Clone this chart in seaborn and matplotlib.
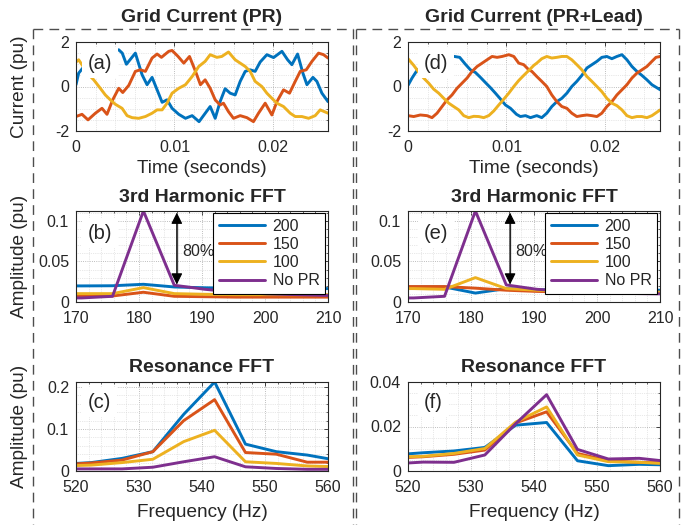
import numpy as np
import pandas as pd
import seaborn as sns
import matplotlib.pyplot as plt
from matplotlib.lines import Line2D
from matplotlib.ticker import MultipleLocator

# ---- grid current, PR only (time in ms, current in pu) ----
pr_a_t = [0, 0.27, 1.0, 1.8, 2.6, 3.3, 3.9, 4.34, 4.7, 5.12, 6.03, 6.71, 7.22, 7.73, 8.24,
          8.75, 9.25, 9.76, 10.44, 11.12, 11.8, 12.5, 13.63, 14.14, 14.64, 15.15, 15.66,
          16.17, 16.68, 17.19, 17.69, 18.2, 18.71, 19.39, 20.07, 20.92, 21.5, 21.93, 22.51,
          23.05, 23.46, 24.07, 24.47, 24.98, 25.6]
pr_a_i = [0.08, 0.6, 1.0, 1.2, 1.45, 1.35, 1.6, 1.65, 1.5, 1.0, 1.5, 0.53, 0.08, 0.41, -0.15,
          -0.71, -0.6, -0.98, -1.25, -1.43, -1.31, -1.58, -0.9, -1.43, -0.68, -0.1, -0.3,
          -0.38, 0.23, 0.68, 0.75, 0.68, 1.1, 1.43, 1.3, 1.58, 1.2, 0.98, 1.46,
          0.6, 0.08, 0.41, 0.23, -0.3, -0.68]
pr_b_t = [0, 0.61, 1.22, 1.97, 2.64, 3.15, 3.73, 4.34, 4.75, 5.36, 6.03, 6.54, 7.05, 7.73,
          8.24, 8.68, 9.42, 9.76, 10.37, 10.95, 11.53, 12.14, 12.64, 13.12, 13.63, 14.14,
          14.64, 14.98, 15.49, 16.0, 16.68, 17.36, 18.03, 18.54, 19.22, 19.9, 20.41, 21.08,
          21.69, 22.27, 22.78, 23.39, 23.97, 24.64, 25.15, 25.6]
pr_b_i = [-1.35, -1.25, -1.5, -1.2, -0.98, -1.25, -0.6, -0.08, -0.27, 0.05, 0.68, 0.75, 0.68,
          1.28, 1.46, 1.31, 1.58, 1.62, 1.35, 1.05, 1.35, 0.68, 0.08, 0.3, -0.08, -0.6,
          -0.83, -0.75, -1.13, -1.43, -1.31, -1.4, -1.58, -1.2, -0.75, -1.28, -0.68, -0.15,
          -0.3, 0.23, 0.68, 0.75, 1.13, 1.5, 1.43, 1.28]
pr_c_t = [0, 0.27, 0.8, 1.29, 1.8, 2.47, 2.98, 3.49, 4.0, 4.68, 5.19, 5.7, 6.37, 7.05, 7.73,
          8.24, 8.75, 9.25, 9.76, 10.44, 11.12, 11.8, 12.47, 13.12, 13.63, 14.31, 14.81,
          15.49, 16.17, 16.68, 17.19, 17.69, 18.2, 18.88, 19.39, 19.9, 20.41, 21.08, 21.76,
          22.27, 22.95, 23.63, 24.3, 24.81, 25.6]
pr_c_i = [1.1, 1.2, 0.85, 0.53, 0.3, -0.08, -0.38, -0.6, -0.8, -0.98, -1.31, -1.4, -1.43,
          -1.35, -1.2, -1.05, -1.05, -0.75, -0.3, -0.08, 0.08, 0.45, 0.9, 1.13, 1.43, 1.31,
          1.35, 1.55, 1.2, 1.05, 0.9, 0.68, 0.23, 0, -0.3, -0.53, -0.75, -0.9, -1.2,
          -1.35, -1.35, -1.43, -1.31, -1.05, -1.2]

# ---- grid current, PR + lead ----
lead_a_t = [0, 0.41, 0.85, 1.5, 2.5, 3.5, 4.2, 4.71, 5.25, 5.83, 6.34, 6.85, 7.36, 7.86, 8.37,
            8.88, 9.39, 9.9, 10.41, 11.02, 11.42, 11.93, 12.44, 13.08, 13.59, 14.1, 14.61,
            15.12, 15.63, 16.14, 16.64, 17.15, 17.66, 18.17, 18.68, 19.19, 19.69, 20.2,
            20.71, 21.22, 21.73, 22.24, 22.75, 23.25, 23.76, 24.27, 24.78, 25.63]
lead_a_i = [0.05, 0.38, 0.68, 0.95, 1.2, 1.35, 1.38, 1.35, 1.31, 1.0, 0.75, 0.63, 0.41, 0.18,
            -0.05, -0.3, -0.56, -0.83, -0.98, -1.25, -1.35, -1.31, -1.4, -1.31, -1.4, -1.2,
            -0.9, -0.68, -0.53, -0.3, 0, 0.23, 0.5, 0.83, 0.98, 1.13, 1.31, 1.35, 1.25, 1.35,
            1.43, 1.2, 0.9, 0.68, 0.5, 0.3, 0.08, -0.15]
lead_b_t = [0, 0.58, 1.25, 1.93, 2.44, 2.95, 3.46, 3.97, 4.47, 4.98, 5.49, 6.0, 6.51, 7.02,
            7.53, 8.03, 8.54, 9.05, 9.56, 10.24, 10.75, 11.25, 11.76, 12.27, 12.58, 13.08,
            13.59, 14.1, 14.61, 15.12, 15.63, 16.14, 16.64, 17.15, 17.66, 18.17, 18.68,
            19.19, 19.69, 20.2, 20.71, 21.22, 21.73, 22.24, 22.75, 23.25, 23.76, 24.27,
            24.78, 25.19, 25.63]
lead_b_i = [-1.31, -1.35, -1.28, -1.31, -1.4, -1.2, -0.9, -0.6, -0.38, -0.08, 0.15, 0.38, 0.68,
            0.9, 1.05, 1.2, 1.35, 1.31, 1.35, 1.43, 1.35, 1.05, 0.98, 0.75, 0.68, 0.45, 0.23,
            0, -0.38, -0.68, -0.9, -0.98, -1.2, -1.35, -1.31, -1.28, -1.31, -1.35, -1.2, -0.9,
            -0.68, -0.38, -0.15, 0.08, 0.38, 0.6, 0.75, 0.9, 1.13, 1.31, 1.35]
lead_c_t = [0, 0.58, 1.08, 1.59, 2.1, 2.61, 3.12, 3.63, 4.14, 4.64, 5.15, 5.66, 6.17, 6.68,
            7.19, 7.69, 8.2, 8.71, 9.22, 9.73, 10.24, 10.75, 11.25, 11.76, 12.27, 12.78,
            13.08, 13.59, 14.1, 14.61, 15.12, 15.63, 16.14, 16.64, 17.15, 17.66, 18.17,
            18.68, 19.19, 19.69, 20.2, 20.71, 21.22, 21.73, 22.24, 22.75, 23.25, 23.76,
            24.27, 24.78, 25.63]
lead_c_i = [1.25, 0.95, 0.65, 0.38, 0.15, -0.12, -0.3, -0.53, -0.75, -0.9, -1.05, -1.31, -1.4,
            -1.34, -1.35, -1.4, -1.31, -1.1, -0.83, -0.57, -0.3, 0, 0.27, 0.5, 0.72, 0.95,
            1.05, 1.25, 1.35, 1.28, 1.31, 1.35, 1.35, 1.2, 0.98, 0.75, 0.45, 0.23, 0, -0.23,
            -0.53, -0.75, -0.86, -1.05, -1.31, -1.4, -1.35, -1.35, -1.4, -1.31, -1.05]

# ---- FFT bins (Hz) ----
harm_freq = [166.0, 170.9, 175.8, 180.7, 185.6, 190.5, 195.4, 200.3, 205.2, 210.1]
res_freq = [517.5, 522.4, 527.3, 532.2, 537.1, 542.0, 546.9, 551.8, 556.7, 561.6]
cases = ["200", "150", "100", "No PR"]

harm_pr = {
    "200": [0.020, 0.0198, 0.020, 0.0218, 0.0185, 0.0175, 0.017, 0.0168, 0.0166, 0.0165],
    "150": [0.007, 0.007, 0.0074, 0.012, 0.007, 0.0065, 0.006, 0.006, 0.006, 0.006],
    "100": [0.0103, 0.0103, 0.0103, 0.0177, 0.0103, 0.0095, 0.009, 0.009, 0.009, 0.009],
    "No PR": [0.005, 0.005, 0.007, 0.112, 0.0206, 0.0156, 0.012, 0.010, 0.009, 0.008],
}
harm_lead = {
    "200": [0.0185, 0.0185, 0.0185, 0.011, 0.0165, 0.015, 0.015, 0.0148, 0.0146, 0.0145],
    "150": [0.019, 0.019, 0.019, 0.017, 0.0145, 0.013, 0.0125, 0.0122, 0.012, 0.012],
    "100": [0.0165, 0.0165, 0.0156, 0.030, 0.0165, 0.0145, 0.013, 0.0125, 0.012, 0.012],
    "No PR": [0.005, 0.005, 0.007, 0.112, 0.021, 0.0156, 0.013, 0.011, 0.0105, 0.010],
}
res_pr = {
    "200": [0.016, 0.020, 0.030, 0.046, 0.135, 0.212, 0.064, 0.046, 0.038, 0.025],
    "150": [0.015, 0.019, 0.026, 0.046, 0.120, 0.170, 0.044, 0.040, 0.021, 0.021],
    "100": [0.012, 0.014, 0.020, 0.028, 0.070, 0.097, 0.022, 0.018, 0.012, 0.010],
    "No PR": [0.005, 0.005, 0.005, 0.009, 0.022, 0.034, 0.010, 0.006, 0.004, 0.004],
}
res_lead = {
    "200": [0.0072, 0.0082, 0.0090, 0.0106, 0.0206, 0.0218, 0.0046, 0.0024, 0.0030, 0.0027],
    "150": [0.0058, 0.0064, 0.0075, 0.0094, 0.0216, 0.0266, 0.0079, 0.0046, 0.0039, 0.0036],
    "100": [0.0062, 0.0066, 0.0079, 0.0101, 0.0220, 0.0288, 0.0072, 0.0042, 0.0039, 0.0032],
    "No PR": [0.0032, 0.0040, 0.0039, 0.0072, 0.0213, 0.0343, 0.0097, 0.0054, 0.0057, 0.0042],
}

colors = ["#0072BD", "#D95319", "#EDB120", "#7E2F8E"]

sns.set_theme(style="white")
plt.rcParams["font.family"] = ["Liberation Sans", "DejaVu Sans"]
plt.rcParams["axes.unicode_minus"] = False


def wave_df(series):
    parts = []
    for name, (t, i) in series.items():
        parts.append(pd.DataFrame({"t": np.array(t) / 1000, "i": i, "phase": name}))
    return pd.concat(parts, ignore_index=True)


def fft_df(freq, table):
    parts = [pd.DataFrame({"f": freq, "amp": table[c], "case": c}) for c in cases]
    return pd.concat(parts, ignore_index=True)


def style(ax, xminor, yminor):
    ax.set_facecolor("white")
    ax.xaxis.set_minor_locator(MultipleLocator(xminor))
    ax.yaxis.set_minor_locator(MultipleLocator(yminor))
    ax.grid(which="major", linestyle=":", color="#a8a8a8", lw=0.6)
    ax.grid(which="minor", linestyle=":", color="#d2d2d2", lw=0.5)
    ax.set_axisbelow(True)
    ax.tick_params(which="both", direction="in", top=True, right=True,
                   labelsize=11.5, colors="#262626")
    ax.tick_params(which="major", length=3, width=0.6)
    ax.tick_params(which="minor", length=1.5, width=0.5)
    ax.tick_params(axis="x", pad=6.5)
    ax.tick_params(axis="y", pad=5)
    for s in ax.spines.values():
        s.set_color("#262626")
        s.set_linewidth(0.8)
        s.set_visible(True)
    ax.set_xlabel("")
    ax.set_ylabel("")


def panel_tag(ax, x, y, tag):
    ax.text(x, y, tag, transform=ax.transAxes, fontsize=14.5, va="center", ha="left",
            zorder=6, bbox=dict(facecolor="white", edgecolor="none", pad=4))


fig = plt.figure(figsize=(6.99, 5.25), dpi=100)
W, H = 699, 525


def add_ax(x0, y0, x1, y1):
    return fig.add_axes([x0 / W, 1 - y1 / H, (x1 - x0) / W, (y1 - y0) / H])


ax_a = add_ax(76, 42, 328, 131)
ax_d = add_ax(408, 42, 660, 131)
ax_b = add_ax(76, 211, 328, 302)
ax_e = add_ax(408, 211, 660, 302)
ax_c = add_ax(76, 382, 328, 471)
ax_f = add_ax(408, 382, 660, 471)

# time-domain currents
for ax, series, tag, tx in [
    (ax_a, {"A": (pr_a_t, pr_a_i), "B": (pr_b_t, pr_b_i), "C": (pr_c_t, pr_c_i)}, "(a)", 0.048),
    (ax_d, {"A": (lead_a_t, lead_a_i), "B": (lead_b_t, lead_b_i), "C": (lead_c_t, lead_c_i)}, "(d)", 0.063),
]:
    df = wave_df(series)
    sns.lineplot(data=df, x="t", y="i", hue="phase", palette=colors[:3], estimator=None,
                 sort=False, linewidth=2.1, legend=False, ax=ax)
    ax.set_xlim(0, 0.0256)
    ax.set_ylim(-2, 2)
    ax.set_xticks([0, 0.01, 0.02])
    ax.set_xticklabels(["0", "0.01", "0.02"])
    ax.set_yticks([-2, 0, 2])
    ax.set_yticklabels(["-2", "0", "2"])
    style(ax, 0.002, 0.5)
    ax.set_xlabel("Time (seconds)", fontsize=13.7)
    ax.xaxis.set_label_coords(0.5, -0.33)
    ax.xaxis.label.set_va("top")
    ax.set_title("Grid Current (PR)" if ax is ax_a else "Grid Current (PR+Lead)",
                 fontsize=14, fontweight="bold", pad=14.5)
    panel_tag(ax, tx, 0.764, tag)

# 3rd harmonic FFT
for ax, table, tag, tx, ax_x in [(ax_b, harm_pr, "(b)", 0.048, 186.0),
                                 (ax_e, harm_lead, "(e)", 0.063, 186.2)]:
    df = fft_df(harm_freq, table)
    sns.lineplot(data=df, x="f", y="amp", hue="case", hue_order=cases, palette=colors,
                 estimator=None, sort=False, linewidth=2.1, legend=True, ax=ax)
    ax.set_xlim(170, 210)
    ax.set_ylim(0, 0.112)
    ax.set_xticks([170, 180, 190, 200, 210])
    ax.set_yticks([0, 0.05, 0.1])
    ax.set_yticklabels(["0", "0.05", "0.1"])
    style(ax, 2, 0.01)
    ax.set_title("3rd Harmonic FFT", fontsize=14, fontweight="bold", pad=6.3)
    sns.move_legend(ax, "upper right", bbox_to_anchor=(0.988, 0.978), title=None,
                    frameon=True, fancybox=False, framealpha=1, edgecolor="black",
                    fontsize=11.5, handlelength=2.9, borderpad=0.35, labelspacing=0.2,
                    handletextpad=0.45, borderaxespad=0)
    leg = ax.get_legend()
    leg.get_frame().set_linewidth(0.8)
    for ln in leg.get_lines():
        ln.set_linewidth(2.1)
    ax.plot([ax_x, ax_x], [0.03, 0.1], color="#666666", lw=1)
    ax.annotate("", xy=(ax_x, 0.0215), xytext=(ax_x, 0.110),
                arrowprops=dict(arrowstyle="<|-|>", color="black", lw=0.8,
                                mutation_scale=17, shrinkA=0, shrinkB=0))
    ax.text(ax_x + 0.8, 0.062, "80%", fontsize=11.5, va="center", ha="left", color="#262626")
    panel_tag(ax, tx, 0.758, tag)

# resonance FFT
for ax, table, tag, tx in [(ax_c, res_pr, "(c)", 0.048), (ax_f, res_lead, "(f)", 0.063)]:
    df = fft_df(res_freq, table)
    sns.lineplot(data=df, x="f", y="amp", hue="case", hue_order=cases, palette=colors,
                 estimator=None, sort=False, linewidth=2.1, legend=False, ax=ax)
    ax.set_xlim(520, 560)
    ax.set_xticks([520, 530, 540, 550, 560])
    if ax is ax_c:
        ax.set_ylim(0, 0.212)
        ax.set_yticks([0, 0.1, 0.2])
        ax.set_yticklabels(["0", "0.1", "0.2"])
        style(ax, 2, 0.02)
    else:
        ax.set_ylim(0, 0.04)
        ax.set_yticks([0, 0.02, 0.04])
        ax.set_yticklabels(["0", "0.02", "0.04"])
        style(ax, 2, 0.005)
    ax.set_title("Resonance FFT", fontsize=14, fontweight="bold", pad=7)
    ax.set_xlabel("Frequency (Hz)", fontsize=13.7)
    ax.xaxis.set_label_coords(0.5, -0.37)
    ax.xaxis.label.set_va("top")
    panel_tag(ax, tx, 0.775, tag)

ax_a.set_ylabel("Current (pu)", fontsize=13.7)
ax_b.set_ylabel("Amplitude (pu)", fontsize=13.7)
ax_c.set_ylabel("Amplitude (pu)", fontsize=13.7)
for ax in (ax_a, ax_b, ax_c):
    ax.yaxis.set_label_coords(-0.19, 0.5)

# dashed frames around the two columns
dash = dict(color="#4d4d4d", lw=1, linestyle=(0, (7, 4.5)))
for x0, x1 in [(33, 353), (356, 679)]:
    for xs, ys in [([x0, x1], [29, 29]), ([x0, x0], [29, 530]), ([x1, x1], [29, 530])]:
        fig.add_artist(Line2D([x / W for x in xs], [1 - y / H for y in ys], **dash))

plt.savefig("out.png", dpi=100)
